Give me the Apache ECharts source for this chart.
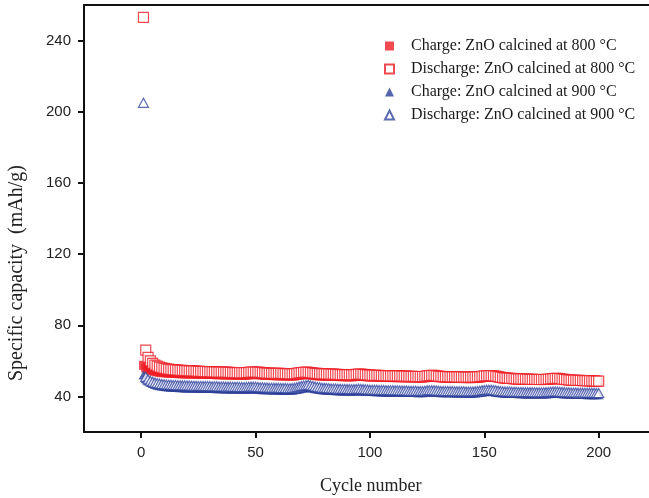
<!DOCTYPE html>
<html>
<head>
<meta charset="utf-8">
<script src="https://cdn.jsdelivr.net/npm/echarts@6/dist/echarts.min.js"></script>
<style>
  html, body { margin: 0; padding: 0; background: #fff; }
  #chart { width: 649px; height: 498px; }
</style>
</head>
<body>
<div id="chart"></div>
<script>
// capacity per cycle (mAh/g)
const discharge800 = [
  253, 66, 62, 60, 58.6, 57.6, 57, 56.5, 56.1, 55.8,
  55.5, 55.3, 55.1, 55, 54.9, 54.8, 54.7, 54.6, 54.5, 54.5,
  54.4, 54.3, 54.3, 54.2, 54.1, 54.1, 54, 54, 53.9, 53.9,
  53.8, 53.8, 53.7, 53.7, 53.7, 53.6, 53.6, 53.5, 53.5, 53.4,
  53.4, 53.4, 53.3, 53.3, 53.3, 53.4, 53.5, 53.6, 53.7, 53.7,
  53.6, 53.5, 53.3, 53.2, 53.1, 53.1, 53, 53, 52.9, 52.9,
  52.9, 52.8, 52.8, 52.8, 52.7, 52.7, 52.8, 53, 53.2, 53.4,
  53.5, 53.6, 53.5, 53.4, 53.2, 53, 52.9, 52.8, 52.7, 52.7,
  52.6, 52.6, 52.5, 52.5, 52.4, 52.4, 52.3, 52.3, 52.2, 52.2,
  52.2, 52.1, 52.2, 52.4, 52.5, 52.5, 52.4, 52.2, 52.1, 52,
  51.9, 51.9, 51.8, 51.8, 51.7, 51.7, 51.7, 51.6, 51.6, 51.5,
  51.5, 51.5, 51.5, 51.4, 51.4, 51.4, 51.3, 51.3, 51.3, 51.2,
  51.2, 51.2, 51.2, 51.3, 51.5, 51.7, 51.8, 51.8, 51.6, 51.4,
  51.3, 51.2, 51.1, 51.1, 51, 51, 51, 50.9, 50.9, 50.9,
  50.8, 50.8, 50.8, 50.8, 50.8, 50.9, 51, 51.1, 51.3, 51.5,
  51.6, 51.7, 51.7, 51.6, 51.4, 51.1, 50.8, 50.6, 50.4, 50.3,
  50.2, 50.1, 50, 49.9, 49.9, 49.8, 49.8, 49.7, 49.7, 49.6,
  49.6, 49.6, 49.5, 49.5, 49.5, 49.5, 49.6, 49.7, 49.9, 50,
  50.1, 50.1, 50, 49.8, 49.6, 49.4, 49.3, 49.2, 49.1, 49.1,
  49, 49, 48.9, 48.9, 48.8, 48.8, 48.7, 48.7, 48.6, 48.6
];
const charge800 = [
  57.5, 56, 55.3, 54.8, 54.4, 54.1, 53.8, 53.6, 53.4, 53.3,
  53.2, 53.1, 53, 52.9, 52.9, 52.8, 52.8, 52.7, 52.7, 52.7,
  52.6, 52.6, 52.6, 52.5, 52.5, 52.5, 52.4, 52.4, 52.4, 52.3,
  52.3, 52.3, 52.2, 52.2, 52.2, 52.1, 52.1, 52.1, 52, 52,
  52, 52, 51.9, 51.9, 51.9, 52, 52.1, 52.2, 52.3, 52.3,
  52.2, 52.1, 52, 51.9, 51.8, 51.8, 51.7, 51.7, 51.6, 51.6,
  51.6, 51.5, 51.5, 51.5, 51.4, 51.4, 51.5, 51.7, 51.9, 52.1,
  52.2, 52.3, 52.2, 52.1, 51.9, 51.7, 51.6, 51.5, 51.5, 51.4,
  51.4, 51.3, 51.3, 51.3, 51.2, 51.2, 51.1, 51.1, 51.1, 51,
  51, 51, 51.1, 51.2, 51.3, 51.3, 51.2, 51.1, 51, 50.9,
  50.9, 50.8, 50.8, 50.8, 50.7, 50.7, 50.7, 50.6, 50.6, 50.6,
  50.6, 50.5, 50.5, 50.5, 50.5, 50.4, 50.4, 50.4, 50.4, 50.3,
  50.3, 50.3, 50.3, 50.4, 50.6, 50.8, 50.9, 50.9, 50.7, 50.5,
  50.4, 50.3, 50.3, 50.2, 50.2, 50.2, 50.1, 50.1, 50.1, 50.1,
  50, 50, 50, 50, 50, 50.1, 50.2, 50.3, 50.5, 50.7,
  50.8, 50.9, 50.9, 50.8, 50.6, 50.3, 50.1, 49.9, 49.7, 49.6,
  49.5, 49.4, 49.4, 49.3, 49.3, 49.2, 49.2, 49.1, 49.1, 49.1,
  49, 49, 49, 48.9, 48.9, 48.9, 49, 49.1, 49.3, 49.4,
  49.5, 49.5, 49.4, 49.2, 49, 48.9, 48.8, 48.7, 48.6, 48.6,
  48.5, 48.5, 48.4, 48.4, 48.3, 48.3, 48.2, 48.2, 48.1, 48.1
];
const discharge900 = [
  205, 51, 49.6, 48.8, 48.2, 47.8, 47.5, 47.2, 47, 46.8,
  46.7, 46.6, 46.5, 46.4, 46.4, 46.3, 46.3, 46.2, 46.2, 46.1,
  46.1, 46, 46, 46, 45.9, 45.9, 45.9, 45.8, 45.8, 45.8,
  45.7, 45.7, 45.7, 45.6, 45.6, 45.6, 45.5, 45.5, 45.5, 45.4,
  45.4, 45.4, 45.3, 45.3, 45.3, 45.3, 45.4, 45.5, 45.5, 45.4,
  45.3, 45.2, 45.1, 45, 45, 44.9, 44.9, 44.8, 44.8, 44.8,
  44.7, 44.7, 44.7, 44.6, 44.6, 44.7, 44.9, 45.2, 45.5, 45.8,
  46.1, 46.3, 46.5, 46.2, 45.9, 45.6, 45.3, 45.1, 44.9, 44.8,
  44.7, 44.6, 44.5, 44.4, 44.4, 44.3, 44.3, 44.2, 44.2, 44.1,
  44.1, 44, 44.1, 44.2, 44.3, 44.2, 44.1, 44, 43.9, 43.8,
  43.8, 43.7, 43.7, 43.6, 43.6, 43.6, 43.5, 43.5, 43.5, 43.4,
  43.4, 43.4, 43.3, 43.3, 43.3, 43.3, 43.2, 43.2, 43.2, 43.2,
  43.1, 43.1, 43.1, 43.2, 43.4, 43.5, 43.5, 43.4, 43.3, 43.2,
  43.1, 43.1, 43, 43, 43, 43, 42.9, 42.9, 42.9, 42.9,
  42.9, 42.8, 42.8, 42.8, 42.8, 42.9, 43, 43.2, 43.4, 43.6,
  43.7, 43.8, 43.8, 43.6, 43.4, 43.2, 43, 42.9, 42.8, 42.7,
  42.7, 42.6, 42.6, 42.6, 42.5, 42.5, 42.5, 42.4, 42.4, 42.4,
  42.4, 42.3, 42.3, 42.3, 42.3, 42.3, 42.4, 42.5, 42.6, 42.7,
  42.7, 42.7, 42.6, 42.5, 42.4, 42.3, 42.3, 42.2, 42.2, 42.2,
  42.1, 42.1, 42.1, 42.1, 42, 42, 42, 42, 41.9, 41.9
];
const charge900 = [
  52, 50, 48.8, 47.9, 47.2, 46.7, 46.3, 46, 45.8, 45.6,
  45.4, 45.3, 45.2, 45.1, 45, 45, 44.9, 44.9, 44.8, 44.8,
  44.7, 44.7, 44.7, 44.6, 44.6, 44.6, 44.5, 44.5, 44.5, 44.4,
  44.4, 44.4, 44.3, 44.3, 44.3, 44.3, 44.2, 44.2, 44.2, 44.1,
  44.1, 44.1, 44.1, 44, 44, 44, 44.1, 44.2, 44.2, 44.1,
  44, 43.9, 43.8, 43.8, 43.7, 43.7, 43.6, 43.6, 43.6, 43.5,
  43.5, 43.5, 43.4, 43.4, 43.4, 43.5, 43.7, 43.9, 44.2, 44.5,
  44.8, 45, 45.1, 44.9, 44.6, 44.3, 44.1, 43.9, 43.7, 43.6,
  43.5, 43.4, 43.3, 43.3, 43.2, 43.2, 43.1, 43.1, 43, 43,
  43, 42.9, 43, 43.1, 43.2, 43.1, 43, 42.9, 42.8, 42.7,
  42.7, 42.6, 42.6, 42.6, 42.5, 42.5, 42.5, 42.4, 42.4, 42.4,
  42.4, 42.3, 42.3, 42.3, 42.3, 42.2, 42.2, 42.2, 42.2, 42.2,
  42.1, 42.1, 42.1, 42.2, 42.4, 42.5, 42.5, 42.4, 42.3, 42.2,
  42.1, 42.1, 42, 42, 42, 42, 41.9, 41.9, 41.9, 41.9,
  41.9, 41.8, 41.8, 41.8, 41.8, 41.9, 42, 42.2, 42.4, 42.6,
  42.7, 42.8, 42.8, 42.6, 42.4, 42.2, 42, 41.9, 41.8, 41.7,
  41.7, 41.6, 41.6, 41.6, 41.5, 41.5, 41.5, 41.4, 41.4, 41.4,
  41.4, 41.3, 41.3, 41.3, 41.3, 41.3, 41.4, 41.5, 41.6, 41.7,
  41.7, 41.7, 41.6, 41.5, 41.4, 41.3, 41.3, 41.2, 41.2, 41.2,
  41.1, 41.1, 41.1, 41.1, 41, 41, 41, 41, 40.9, 40.9
];
const seriesNames = [
  'Charge: ZnO calcined at 800 °C',
  'Discharge: ZnO calcined at 800 °C',
  'Charge: ZnO calcined at 900 °C',
  'Discharge: ZnO calcined at 900 °C'
];
const xTicks = [0, 50, 100, 150, 200];
const yTicks = [40, 80, 120, 160, 200, 240];

const RED = '#ee1d24';
const BLUE = '#2d3f97';
const serifFont = '"Liberation Serif", "DejaVu Serif", serif';
const sansFont = '"Liberation Sans", Arial, sans-serif';

// pair each value with its cycle number (cycles start at 1)
function withCycles(values) {
  return values.map((v, i) => [i + 1, v]);
}

const chart = echarts.init(document.getElementById('chart'));

const axisLine = { show: true, onZero: false, lineStyle: { color: '#111', width: 2 } };

let option = {
  backgroundColor: '#fff',
  animation: false,
  grid: { left: 84, top: 5, right: 0, bottom: 66 },
  legend: {
    orient: 'vertical',
    left: 379,
    top: 33,
    itemWidth: 9,
    itemHeight: 9,
    itemGap: 7,
    textStyle: { fontFamily: serifFont, fontSize: 16, color: '#1a1a1a', padding: [0, 0, 0, 12] },
    data: seriesNames
  },
  xAxis: [
    {
      type: 'value',
      min: -25,
      max: 222,
      splitLine: { show: false },
      axisLine: axisLine,
      axisTick: { show: true, customValues: xTicks, length: 6, lineStyle: { color: '#111', width: 2 } },
      axisLabel: { customValues: xTicks, margin: 13, fontFamily: sansFont, fontSize: 15, color: '#222' }
    },
    {
      // top edge of the frame
      type: 'value',
      position: 'top',
      min: -25,
      max: 222,
      splitLine: { show: false },
      axisLine: axisLine,
      axisTick: { show: false },
      axisLabel: { show: false }
    }
  ],
  yAxis: {
    type: 'value',
    min: 20,
    max: 260,
    splitLine: { show: false },
    axisLine: axisLine,
    axisTick: { show: true, customValues: yTicks, length: 6, lineStyle: { color: '#111', width: 2 } },
    axisLabel: { customValues: yTicks, margin: 13, fontFamily: sansFont, fontSize: 15, color: '#222' }
  },
  graphic: [
    {
      type: 'text',
      left: 7,
      top: 165,
      rotation: Math.PI / 2,
      style: {
        text: 'Specific capacity  (mAh/g)',
        fontFamily: serifFont,
        fontSize: 20,
        fill: '#222'
      }
    },
    {
      type: 'text',
      left: 320,
      top: 477,
      style: {
        text: 'Cycle number',
        fontFamily: serifFont,
        fontSize: 18,
        fill: '#222'
      }
    }
  ],
  series: [
    {
      name: seriesNames[0],
      type: 'scatter',
      symbol: 'rect',
      symbolSize: 9,
      itemStyle: { color: RED },
      z: 2,
      data: withCycles(charge800)
    },
    {
      name: seriesNames[1],
      type: 'scatter',
      symbol: 'rect',
      symbolSize: 10,
      itemStyle: { color: '#fff', borderColor: RED, borderWidth: 1.2 },
      z: 3,
      data: withCycles(discharge800)
    },
    {
      name: seriesNames[2],
      type: 'scatter',
      symbol: 'triangle',
      symbolSize: [10, 9],
      itemStyle: { color: BLUE },
      z: 2,
      data: withCycles(charge900)
    },
    {
      name: seriesNames[3],
      type: 'scatter',
      symbol: 'triangle',
      symbolSize: [10, 9],
      itemStyle: { color: '#fff', borderColor: '#3346a0', borderWidth: 1.2 },
      z: 3,
      data: withCycles(discharge900)
    }
  ]
};

chart.setOption(option);
</script>
</body>
</html>
